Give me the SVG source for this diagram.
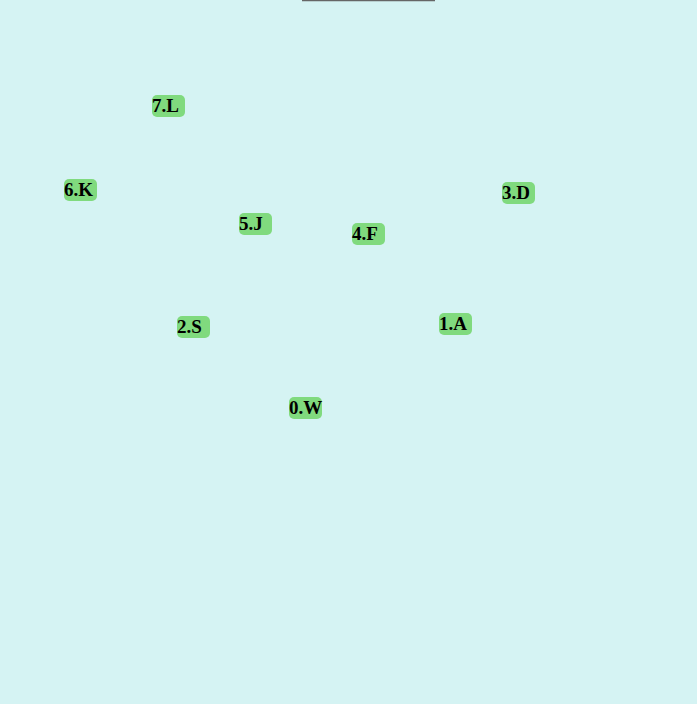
<svg xmlns="http://www.w3.org/2000/svg" width="697" height="704" viewBox="0 0 697 704">
<style>
.n rect{fill:#80da7e;}
.n text{font-family:"Liberation Serif","Times New Roman",serif;font-weight:bold;font-size:19px;fill:#000;}
</style>
<rect x="0" y="0" width="697" height="704" fill="#d5f3f3"/>
<line x1="302" y1="0.5" x2="435" y2="0.5" stroke="#666" stroke-width="1.5"/>
<g id="connectors"></g>
<g id="n7" class="n"><rect x="152" y="95" width="33" height="22" rx="5"/><text x="152" y="112">7.L</text></g>
<g id="n6" class="n"><rect x="64" y="179" width="33" height="22" rx="5"/><text x="64" y="196">6.K</text></g>
<g id="n5" class="n"><rect x="239" y="213" width="33" height="22" rx="5"/><text x="239" y="230">5.J</text></g>
<g id="n4" class="n"><rect x="352" y="223" width="33" height="22" rx="5"/><text x="352" y="240">4.F</text></g>
<g id="n3" class="n"><rect x="502" y="182" width="33" height="22" rx="5"/><text x="502" y="199">3.D</text></g>
<g id="n2" class="n"><rect x="177" y="316" width="33" height="22" rx="5"/><text x="177" y="333">2.S</text></g>
<g id="n1" class="n"><rect x="439" y="313" width="33" height="22" rx="5"/><text x="439" y="330">1.A</text></g>
<g id="n0" class="n"><rect x="289" y="397" width="33" height="22" rx="5"/><text x="289" y="414">0.W</text></g>
</svg>
